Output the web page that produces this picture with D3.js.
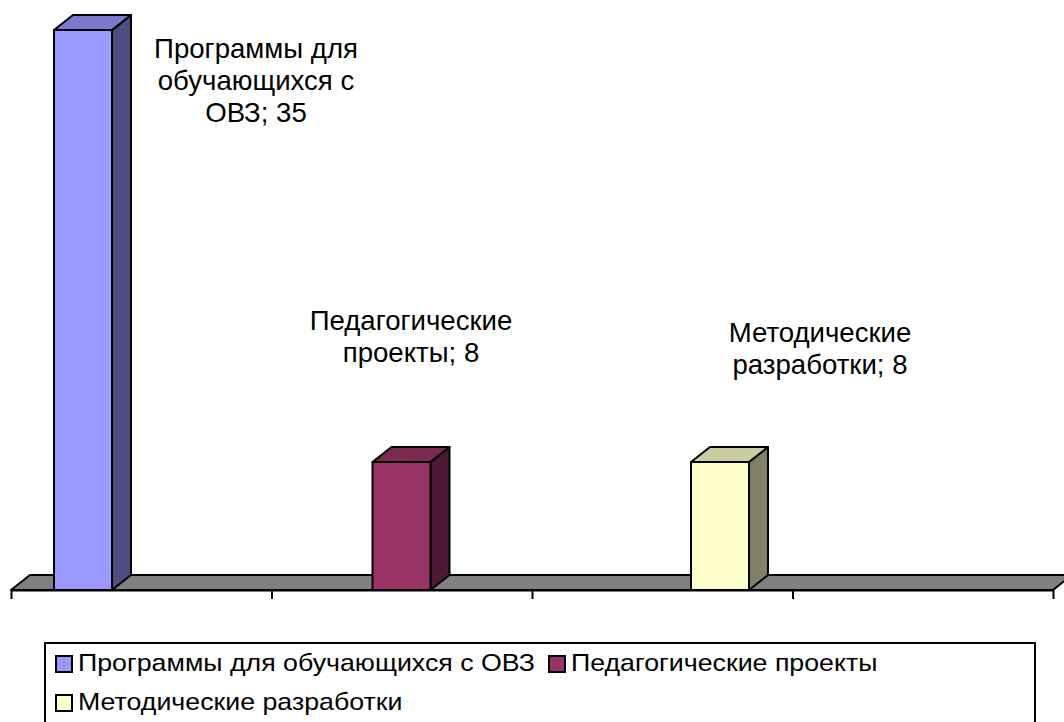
<!DOCTYPE html>
<html>
<head>
<meta charset="utf-8">
<script src="https://cdn.jsdelivr.net/npm/d3@7"></script>
<style>
  body { margin: 0; background: #fff; }
  svg { display: block; font-family: "Liberation Sans", Arial, sans-serif; }
</style>
</head>
<body>
<svg id="chart" width="1064" height="722"></svg>
<script>
// data
var series = ["Программы для обучающихся с ОВЗ", "Педагогические проекты", "Методические разработки"]
var values = [35, 8, 8]
var labelLines = [["Программы для", "обучающихся с", "ОВЗ"], ["Педагогические", "проекты"], ["Методические", "разработки"]]
var categoryTicks = [0, 1, 2, 3, 4]

// colours per series: front, side, top
var fronts = ["#9999ff", "#993366", "#ffffcc"]
var sides = ["#4d4d80", "#4d1a33", "#808066"]
var tops = ["#7a7acc", "#7a2952", "#cccca3"]

// layout
var width = 1064
var height = 722
var x0 = 11, x1 = 1053
var floorY = 590
var depthX = 19, depthY = -15
var barW = 58
var labelPos = [[256, 58], [411, 330], [820, 342]] // centre x, first baseline
var lineH = 32

var svg = d3.select("#chart")

var y = d3.scaleLinear().domain([0, 35]).range([floorY, 30])
var xBar = d3.scalePoint().domain(series).range([83, 720])
var xAxis = d3.scaleLinear().domain([0, 4]).range([x0, x1])

// floor
svg.append("path")
    .attr("d", d3.line()([[x0, floorY], [x1, floorY], [x1 + depthX, floorY + depthY], [x0 + depthX, floorY + depthY]]) + "Z")
    .attr("fill", "#808080")
    .attr("stroke", "#000")
    .attr("stroke-width", 2)
    .attr("stroke-linejoin", "round")

// bars
var bars = svg.append("g").selectAll("g")
    .data(series)
    .enter().append("g")

bars.each(function (d, i) {
    var g = d3.select(this)
    var l = xBar(d) - barW / 2, r = xBar(d) + barW / 2
    var t = y(values[i]), b = y(0)
    // side face
    g.append("path")
        .attr("d", d3.line()([[r, b], [r + depthX, b + depthY], [r + depthX, t + depthY], [r, t]]) + "Z")
        .attr("fill", sides[i])
    // top face
    g.append("path")
        .attr("d", d3.line()([[l, t], [l + depthX, t + depthY], [r + depthX, t + depthY], [r, t]]) + "Z")
        .attr("fill", tops[i])
    // front face
    g.append("rect")
        .attr("x", l).attr("y", t)
        .attr("width", barW).attr("height", b - t)
        .attr("fill", fronts[i])
    g.selectAll("path, rect")
        .attr("stroke", "#000")
        .attr("stroke-width", 2)
        .attr("stroke-linejoin", "round")
})

// category axis (no labels)
svg.append("g")
    .attr("transform", "translate(0," + floorY + ")")
    .call(d3.axisBottom(xAxis).tickValues(categoryTicks).tickFormat("").tickSize(9).tickSizeOuter(0))
    .call(function (g) {
        g.select(".domain").attr("stroke", "#000").attr("stroke-width", 2)
        g.selectAll(".tick line").attr("stroke", "#000").attr("stroke-width", 2)
    })

// data labels
series.forEach(function (s, i) {
    var lines = labelLines[i].slice()
    lines[lines.length - 1] += "; " + values[i]
    var txt = svg.append("text")
        .attr("text-anchor", "middle")
        .attr("font-size", "27.6px")
        .attr("fill", "#000")
    lines.forEach(function (ln, k) {
        txt.append("tspan")
            .attr("x", labelPos[i][0])
            .attr("y", labelPos[i][1] + k * lineH)
            .text(ln)
    })
})

// legend
var legend = svg.append("g")
legend.append("rect")
    .attr("x", 45).attr("y", 643)
    .attr("width", 990).attr("height", 90)
    .attr("fill", "#fff")
    .attr("stroke", "#000")
    .attr("stroke-width", 2)

var legendPos = [[56, 671], [549, 671], [56, 710]]
series.forEach(function (s, i) {
    var p = legendPos[i]
    legend.append("rect")
        .attr("x", p[0]).attr("y", p[1] - 15)
        .attr("width", 16).attr("height", 16)
        .attr("fill", fronts[i])
        .attr("stroke", "#000")
        .attr("stroke-width", 2)
    legend.append("text")
        .attr("transform", "translate(" + (p[0] + 22) + "," + p[1] + ") scale(1.115,1)")
        .attr("font-size", "24px")
        .attr("fill", "#000")
        .text(s)
})
</script>
</body>
</html>
